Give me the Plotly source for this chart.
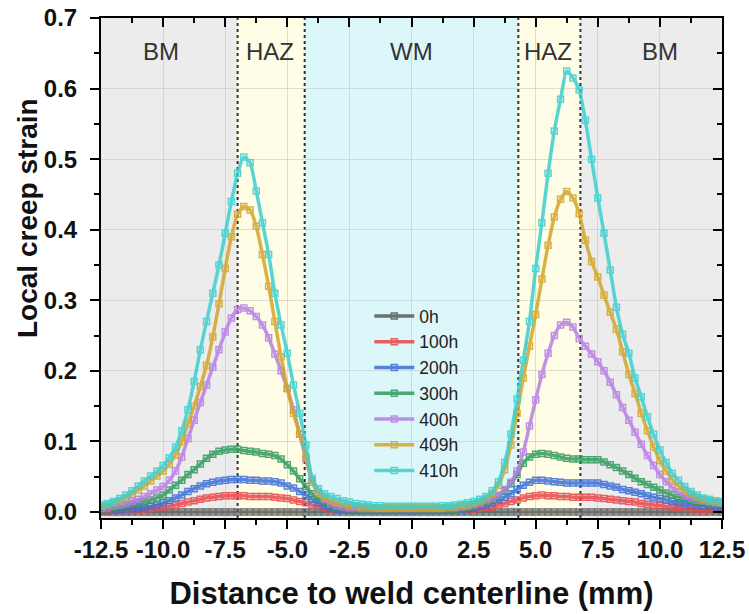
import numpy as np
import plotly.graph_objects as go

# Distance from weld centerline (mm), sampled every 0.25 mm
distance = np.round(np.arange(-12.5, 12.5001, 0.25), 2).tolist()

strain_0h = [
    0.0, 0.0, 0.0, 0.0, 0.0, 0.0, 0.0, 0.0, 0.0, 0.0,
    0.0, 0.0, 0.0, 0.0, 0.0, 0.0, 0.0, 0.0, 0.0, 0.0,
    0.0, 0.0, 0.0, 0.0, 0.0, 0.0, 0.0, 0.0, 0.0, 0.0,
    0.0, 0.0, 0.0, 0.0, 0.0, 0.0, 0.0, 0.0, 0.0, 0.0,
    0.0, 0.0, 0.0, 0.0, 0.0, 0.0, 0.0, 0.0, 0.0, 0.0,
    0.0, 0.0, 0.0, 0.0, 0.0, 0.0, 0.0, 0.0, 0.0, 0.0,
    0.0, 0.0, 0.0, 0.0, 0.0, 0.0, 0.0, 0.0, 0.0, 0.0,
    0.0, 0.0, 0.0, 0.0, 0.0, 0.0, 0.0, 0.0, 0.0, 0.0,
    0.0, 0.0, 0.0, 0.0, 0.0, 0.0, 0.0, 0.0, 0.0, 0.0,
    0.0, 0.0, 0.0, 0.0, 0.0, 0.0, 0.0, 0.0, 0.0, 0.0,
    0.0,
]

strain_100h = [
    0.001, 0.001, 0.002, 0.002, 0.002, 0.003, 0.003, 0.004, 0.005, 0.006,
    0.007, 0.008, 0.010, 0.012, 0.014, 0.016, 0.018, 0.020, 0.021, 0.022,
    0.023, 0.023, 0.023, 0.023, 0.022, 0.022, 0.022, 0.022, 0.021, 0.020,
    0.019, 0.017, 0.015, 0.013, 0.010, 0.008, 0.006, 0.004, 0.003, 0.003,
    0.002, 0.002, 0.002, 0.002, 0.002, 0.002, 0.002, 0.002, 0.002, 0.002,
    0.002, 0.002, 0.002, 0.002, 0.002, 0.002, 0.002, 0.002, 0.003, 0.003,
    0.004, 0.005, 0.006, 0.007, 0.010, 0.012, 0.015, 0.017, 0.020, 0.022,
    0.023, 0.024, 0.023, 0.023, 0.022, 0.022, 0.021, 0.021, 0.021, 0.021,
    0.020, 0.019, 0.018, 0.017, 0.016, 0.015, 0.014, 0.012, 0.011, 0.010,
    0.009, 0.008, 0.007, 0.006, 0.005, 0.005, 0.004, 0.004, 0.003, 0.003,
    0.003,
]

strain_200h = [
    0.002, 0.002, 0.003, 0.003, 0.004, 0.005, 0.006, 0.007, 0.008, 0.010,
    0.013, 0.016, 0.020, 0.024, 0.029, 0.033, 0.037, 0.040, 0.042, 0.044,
    0.045, 0.046, 0.046, 0.046, 0.045, 0.045, 0.044, 0.044, 0.043, 0.041,
    0.037, 0.034, 0.029, 0.024, 0.018, 0.013, 0.009, 0.006, 0.004, 0.003,
    0.003, 0.002, 0.002, 0.002, 0.002, 0.002, 0.002, 0.002, 0.002, 0.002,
    0.002, 0.002, 0.002, 0.002, 0.002, 0.003, 0.003, 0.003, 0.004, 0.005,
    0.006, 0.008, 0.010, 0.013, 0.017, 0.021, 0.026, 0.032, 0.038, 0.042,
    0.045, 0.045, 0.044, 0.043, 0.042, 0.041, 0.041, 0.041, 0.041, 0.041,
    0.041, 0.039, 0.037, 0.035, 0.032, 0.030, 0.028, 0.026, 0.023, 0.021,
    0.019, 0.017, 0.015, 0.013, 0.012, 0.011, 0.010, 0.009, 0.008, 0.007,
    0.007,
]

strain_300h = [
    0.004, 0.005, 0.006, 0.007, 0.009, 0.011, 0.013, 0.015, 0.017, 0.020,
    0.024, 0.031, 0.038, 0.045, 0.053, 0.060, 0.068, 0.076, 0.082, 0.086,
    0.088, 0.089, 0.089, 0.087, 0.086, 0.085, 0.083, 0.082, 0.080, 0.075,
    0.067, 0.058, 0.047, 0.036, 0.026, 0.019, 0.014, 0.010, 0.007, 0.006,
    0.005, 0.004, 0.004, 0.003, 0.003, 0.003, 0.003, 0.003, 0.003, 0.003,
    0.003, 0.003, 0.003, 0.003, 0.003, 0.003, 0.004, 0.004, 0.006, 0.007,
    0.009, 0.011, 0.014, 0.017, 0.022, 0.030, 0.040, 0.053, 0.069, 0.078,
    0.082, 0.083, 0.082, 0.080, 0.078, 0.076, 0.075, 0.075, 0.074, 0.074,
    0.074, 0.071, 0.067, 0.063, 0.058, 0.053, 0.048, 0.043, 0.039, 0.035,
    0.031, 0.027, 0.024, 0.021, 0.019, 0.017, 0.015, 0.013, 0.012, 0.011,
    0.010,
]

strain_400h = [
    0.005, 0.006, 0.008, 0.010, 0.012, 0.015, 0.018, 0.022, 0.026, 0.031,
    0.036, 0.045, 0.058, 0.078, 0.104, 0.130, 0.155, 0.180, 0.205, 0.230,
    0.255, 0.275, 0.287, 0.289, 0.285, 0.277, 0.265, 0.247, 0.224, 0.200,
    0.175, 0.145, 0.110, 0.075, 0.045, 0.028, 0.018, 0.012, 0.009, 0.007,
    0.006, 0.006, 0.005, 0.005, 0.005, 0.005, 0.005, 0.005, 0.005, 0.005,
    0.005, 0.005, 0.005, 0.005, 0.005, 0.005, 0.006, 0.006, 0.007, 0.008,
    0.010, 0.012, 0.016, 0.019, 0.024, 0.032, 0.042, 0.058, 0.085, 0.122,
    0.159, 0.195, 0.225, 0.250, 0.265, 0.269, 0.262, 0.246, 0.235, 0.224,
    0.213, 0.200, 0.184, 0.166, 0.148, 0.130, 0.113, 0.096, 0.080, 0.066,
    0.053, 0.043, 0.035, 0.028, 0.023, 0.020, 0.017, 0.016, 0.014, 0.013,
    0.013,
]

strain_409h = [
    0.008, 0.010, 0.013, 0.016, 0.020, 0.025, 0.031, 0.037, 0.044, 0.051,
    0.058, 0.068, 0.081, 0.100, 0.125, 0.150, 0.178, 0.208, 0.248, 0.295,
    0.345, 0.390, 0.422, 0.433, 0.428, 0.405, 0.365, 0.320, 0.270, 0.220,
    0.175, 0.140, 0.110, 0.078, 0.042, 0.027, 0.020, 0.016, 0.013, 0.011,
    0.009, 0.008, 0.007, 0.007, 0.006, 0.006, 0.006, 0.006, 0.006, 0.006,
    0.006, 0.006, 0.006, 0.006, 0.006, 0.006, 0.007, 0.007, 0.009, 0.010,
    0.012, 0.015, 0.019, 0.026, 0.038, 0.060, 0.095, 0.140, 0.190, 0.235,
    0.280, 0.330, 0.378, 0.418, 0.443, 0.454, 0.445, 0.423, 0.385, 0.355,
    0.333, 0.307, 0.283, 0.259, 0.227, 0.195, 0.168, 0.140, 0.115, 0.092,
    0.073, 0.058, 0.046, 0.037, 0.030, 0.025, 0.021, 0.018, 0.016, 0.014,
    0.013,
]

strain_410h = [
    0.010, 0.012, 0.015, 0.019, 0.024, 0.030, 0.037, 0.044, 0.051, 0.058,
    0.066, 0.077, 0.092, 0.115, 0.145, 0.185, 0.230, 0.270, 0.310, 0.350,
    0.395, 0.440, 0.480, 0.503, 0.495, 0.455, 0.410, 0.365, 0.310, 0.265,
    0.225, 0.180, 0.140, 0.095, 0.048, 0.033, 0.026, 0.022, 0.019, 0.016,
    0.014, 0.012, 0.011, 0.010, 0.009, 0.009, 0.008, 0.008, 0.008, 0.008,
    0.008, 0.008, 0.008, 0.008, 0.008, 0.009, 0.009, 0.010, 0.011, 0.013,
    0.015, 0.018, 0.022, 0.030, 0.043, 0.070, 0.110, 0.160, 0.215, 0.270,
    0.345, 0.410, 0.480, 0.540, 0.585, 0.625, 0.615, 0.598, 0.555, 0.500,
    0.445, 0.395, 0.343, 0.290, 0.252, 0.225, 0.190, 0.163, 0.135, 0.110,
    0.088, 0.070, 0.055, 0.045, 0.036, 0.029, 0.024, 0.020, 0.018, 0.016,
    0.015,
]

series_names = ["0h", "100h", "200h", "300h", "400h", "409h", "410h"]
series_values = [strain_0h, strain_100h, strain_200h, strain_300h,
                 strain_400h, strain_409h, strain_410h]
series_colors = ["#5a5a5a", "#e8474a", "#3b6fd6", "#2f9b5c",
                 "#b77fe4", "#d3a52a", "#3ccfcf"]

# Zone boundaries (mm) and zone labels
zone_edges = [-12.5, -7.0, -4.3, 4.3, 6.8, 12.5]
zone_fill = ["#ececec", "#fffde6", "#dcf7f9", "#fffde6", "#ececec"]
zone_labels = ["BM", "HAZ", "WM", "HAZ", "BM"]
zone_label_x = [-10.1, -5.7, 0.0, 5.5, 10.0]
zone_label_y = 0.652

x_ticks = [-12.5, -10.0, -7.5, -5.0, -2.5, 0.0, 2.5, 5.0, 7.5, 10.0, 12.5]
x_ticktext = ["-12.5", "-10.0", "-7.5", "-5.0", "-2.5", "0.0",
              "2.5", "5.0", "7.5", "10.0", "12.5"]
y_ticks = [0.0, 0.1, 0.2, 0.3, 0.4, 0.5, 0.6, 0.7]

x_range = [-12.5, 12.5]
y_range = [-0.0085, 0.7]

FONT = "Liberation Sans, Arial, sans-serif"
W, H = 749, 614
M = dict(l=101, r=27, t=18, b=96)
plot_w = W - M["l"] - M["r"]
plot_h = H - M["t"] - M["b"]

fig = go.Figure()

for name, vals, col in zip(series_names, series_values, series_colors):
    fig.add_trace(go.Scatter(
        x=distance, y=vals, name=name,
        mode="lines+markers",
        line=dict(color=col, width=3.5, shape="spline", smoothing=0.6),
        marker=dict(symbol="square-open", size=6, color=col,
                    line=dict(color=col, width=1.5)),
        opacity=0.85,
    ))

# invisible trace that carries the top/right tick axes
fig.add_trace(go.Scatter(x=x_range, y=y_range, xaxis="x2", yaxis="y2",
                         mode="markers", marker=dict(opacity=0),
                         showlegend=False, hoverinfo="skip"))

shapes = []
for i, fill in enumerate(zone_fill):
    shapes.append(dict(type="rect", xref="x", yref="paper",
                       x0=zone_edges[i], x1=zone_edges[i + 1], y0=0, y1=1,
                       fillcolor=fill, line=dict(width=0), layer="below"))
for edge in zone_edges[1:-1]:
    shapes.append(dict(type="line", xref="x", yref="paper",
                       x0=edge, x1=edge, y0=0, y1=1,
                       line=dict(color="#333333", width=2, dash="dot"),
                       layer="between"))

annotations = [
    dict(x=lx, y=zone_label_y, xref="x", yref="y", text=lab, showarrow=False,
         font=dict(family=FONT, size=24, color="#333333"))
    for lab, lx in zip(zone_labels, zone_label_x)
]
# y-axis title in the left margin (pixel position -> paper fraction)
annotations.append(dict(
    x=(27 - M["l"]) / plot_w, y=(H - M["b"] - 218) / plot_h,
    xref="paper", yref="paper", xanchor="center", yanchor="middle",
    text="<b>Local creep strain</b>", showarrow=False, textangle=-90,
    font=dict(family=FONT, size=28, color="#111111"),
))

fig.update_layout(
    width=W, height=H,
    margin=M,
    paper_bgcolor="white", plot_bgcolor="white",
    font=dict(family=FONT, color="#111111"),
    shapes=shapes, annotations=annotations,
    legend=dict(x=0.432, y=0.44, xanchor="left", yanchor="top",
                bgcolor="rgba(0,0,0,0)", borderwidth=0,
                font=dict(family=FONT, size=17.5, color="#222222"),
                itemwidth=40, tracegroupgap=0),
    xaxis=dict(
        range=x_range, tickvals=x_ticks, ticktext=x_ticktext,
        showline=True, linecolor="black", linewidth=2, mirror=True,
        ticks="outside", ticklen=9, tickwidth=2, tickcolor="black",
        minor=dict(dtick=1.25, ticks="outside", ticklen=5, tickwidth=2,
                   tickcolor="black", showgrid=False),
        showgrid=True, gridcolor="rgba(195,195,195,0.55)", gridwidth=1,
        zeroline=False, ticklabelstandoff=0, automargin=False,
        tickfont=dict(family=FONT, size=24, color="#111111", weight="bold"),
        title=dict(text="<b>Distance to weld centerline (mm)</b>",
                   font=dict(family=FONT, size=31, color="#111111"),
                   standoff=21),
    ),
    yaxis=dict(
        range=y_range, tickvals=y_ticks, tickformat=".1f",
        showline=True, linecolor="black", linewidth=2, mirror=True,
        ticks="outside", ticklen=9, tickwidth=2, tickcolor="black",
        minor=dict(dtick=0.05, tick0=0, ticks="outside", ticklen=5,
                   tickwidth=2, tickcolor="black", showgrid=False),
        showgrid=True, gridcolor="rgba(195,195,195,0.55)", gridwidth=1,
        zeroline=False, ticklabelstandoff=8, automargin=False,
        tickfont=dict(family=FONT, size=24, color="#111111", weight="bold"),
    ),
    xaxis2=dict(
        overlaying="x", side="top", anchor="y", range=x_range,
        tickvals=x_ticks, showticklabels=False, showgrid=False,
        zeroline=False, showline=False, automargin=False,
        ticks="inside", ticklen=9, tickwidth=2, tickcolor="black",
        minor=dict(dtick=1.25, ticks="inside", ticklen=5, tickwidth=2,
                   tickcolor="black"),
    ),
    yaxis2=dict(
        overlaying="y", side="right", anchor="x", range=y_range,
        tickvals=y_ticks, showticklabels=False, showgrid=False,
        zeroline=False, showline=False, automargin=False,
        ticks="inside", ticklen=9, tickwidth=2, tickcolor="black",
        minor=dict(dtick=0.05, tick0=0, ticks="inside", ticklen=5,
                   tickwidth=2, tickcolor="black"),
    ),
)

fig.write_html("out.html")
